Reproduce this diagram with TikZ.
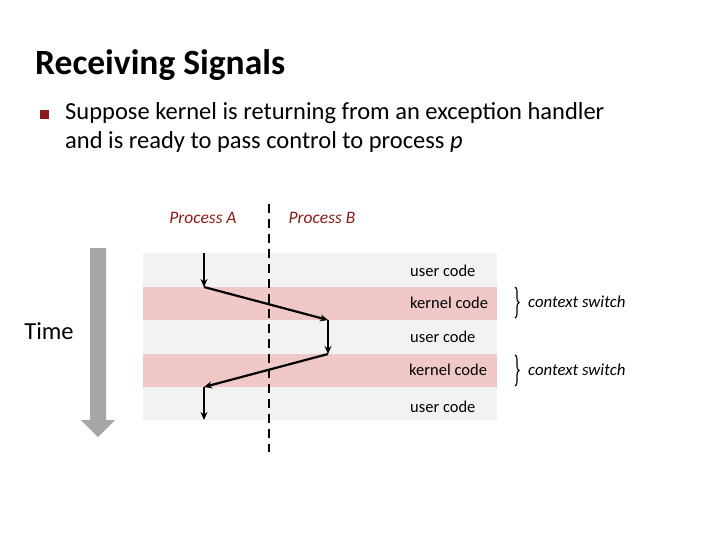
\documentclass[tikz,border=0pt]{standalone}
\usepackage{fontspec}
\setmainfont{Carlito}
\usetikzlibrary{arrows.meta,decorations.pathreplacing}
\definecolor{lightband}{HTML}{F2F2F2}
\definecolor{pinkband}{HTML}{F0C8C8}
\definecolor{darkred}{HTML}{8B1A1A}
\definecolor{timegray}{HTML}{A6A6A6}
\begin{document}
\begin{tikzpicture}[x=1pt,y=-1pt,
  flow/.style={line width=2.2pt,-{Stealth[length=8pt,width=7pt]}},
  lbl/.style={anchor=west,font=\fontsize{16.5}{18}\selectfont,inner sep=0pt},
  proc/.style={font=\fontsize{17.5}{20}\selectfont\itshape,text=darkred,inner sep=0pt},
  cs/.style={anchor=west,font=\fontsize{16.8}{18}\selectfont\itshape,inner sep=0pt}]
\useasboundingbox (0,0) rectangle (720,540);
\node[anchor=west,inner sep=0pt,font=\fontsize{35.5}{40}\selectfont\bfseries] (title) at (35,65) {Receiving Signals};
\node[fill=darkred,minimum size=9pt,inner sep=0pt] (bul) at (44,115) {};
\node[anchor=west,inner sep=0pt,align=left,font=\fontsize{24.5}{29}\selectfont] (txt) at (65,127) {Suppose kernel is returning from an exception handler\\and is ready to pass control to process \textit{p}};
% bands
\fill[lightband] (143,253) rectangle (497,287);
\fill[pinkband] (143,287) rectangle (497,320);
\fill[lightband] (143,320) rectangle (497,354);
\fill[pinkband] (143,354) rectangle (497,387);
\fill[lightband] (143,387) rectangle (497,420);
\node[lbl] (u1) at (410,271) {user code};
\node[lbl] (k1) at (410,303) {kernel code};
\node[lbl] (u2) at (410,337) {user code};
\node[lbl] (k2) at (409,370) {kernel code};
\node[lbl] (u3) at (410,407) {user code};
% dashed divider
\coordinate (dt) at (269,204);
\coordinate (db) at (269,452);
\draw[line width=2.2pt,dash pattern=on 9pt off 6pt] (dt) -- (db);
\node[proc] (pa) at (203,218) {Process A};
\node[proc] (pb) at (322,218) {Process B};
% flow
\coordinate (p0) at (204,253);
\coordinate (p1) at (204,287);
\coordinate (p2) at (328,320);
\coordinate (p3) at (328,354);
\coordinate (p4) at (204,387);
\coordinate (p5) at (204,420);
\draw[flow] (p0) -- (p1);
\draw[flow] (p1) -- (p2);
\draw[flow] (p2) -- (p3);
\draw[flow] (p3) -- (p4);
\draw[flow] (p4) -- (p5);
% braces
\coordinate (b1t) at (515,287); \coordinate (b1b) at (515,318);
\coordinate (b2t) at (515,355); \coordinate (b2b) at (515,386);
\draw[line width=1.1pt,decorate,decoration={brace,amplitude=4pt}] (b1t) -- (b1b);
\draw[line width=1.1pt,decorate,decoration={brace,amplitude=4pt}] (b2t) -- (b2b);
\node[cs] (c1) at (528,302) {context switch};
\node[cs] (c2) at (528,370) {context switch};
% time arrow
\fill[timegray] (90,248) -- (106,248) -- (106,420) -- (115,420) -- (98,437) -- (81,420) -- (90,420) -- cycle;
\node[font=\fontsize{24.5}{28}\selectfont,inner sep=0pt] (time) at (49,331) {Time};
\end{tikzpicture}
\end{document}
